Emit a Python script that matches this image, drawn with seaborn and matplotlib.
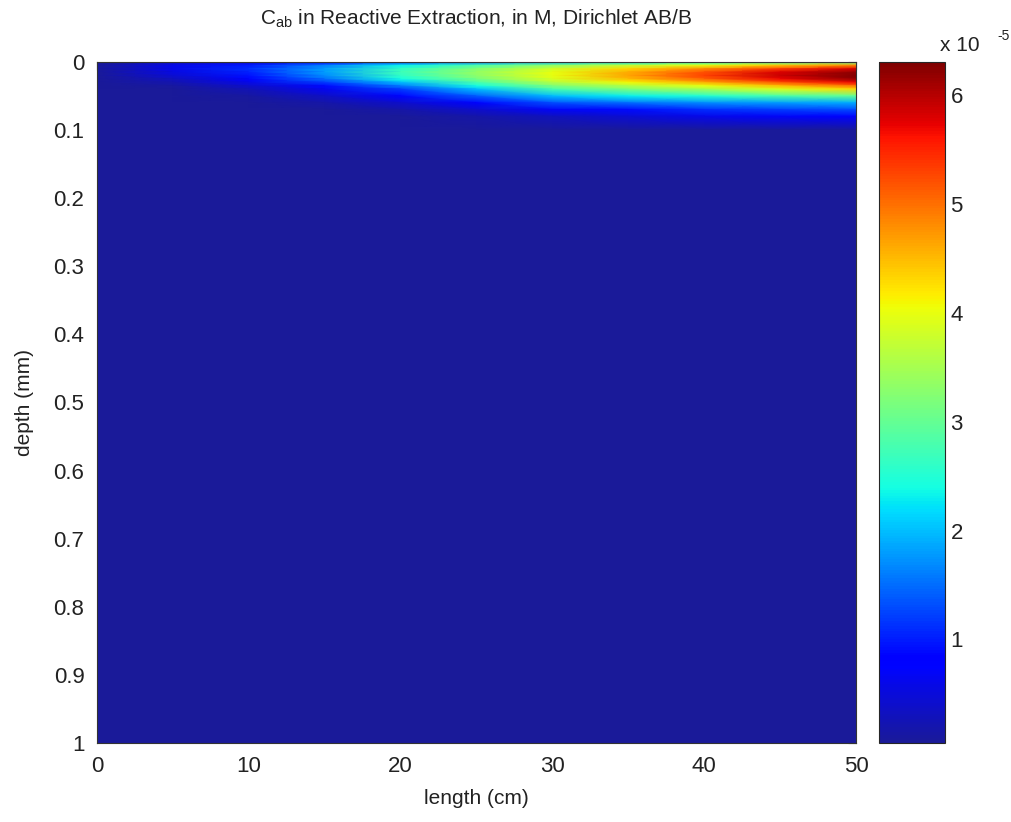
import numpy as np
import matplotlib
matplotlib.use("Agg")
import matplotlib.pyplot as plt
from matplotlib.colors import LinearSegmentedColormap
import seaborn as sns

# ---- data (concentration in units of 1e-5 M) ----
length_cm = [0, 5, 10, 15, 20, 25, 30, 35, 40, 45, 50]
depth_mm = [0, 0.005, 0.01, 0.015, 0.02, 0.025, 0.03, 0.035, 0.04,
            0.05, 0.06, 0.07, 0.08, 0.1, 1.0]

c_x00 = [0.05] * 15
c_x05 = [0.3, 0.6, 0.6, 0.55, 0.45, 0.3, 0.2, 0.1, 0.06, 0.05, 0.05, 0.05, 0.05, 0.05, 0.05]
c_x10 = [0.5, 1.0, 1.1, 1.05, 0.95, 0.8, 0.6, 0.4, 0.25, 0.1, 0.05, 0.05, 0.05, 0.05, 0.05]
c_x15 = [0.8, 1.6, 1.8, 1.8, 1.7, 1.5, 1.2, 0.9, 0.65, 0.35, 0.15, 0.06, 0.05, 0.05, 0.05]
c_x20 = [1.2, 2.3, 2.6, 2.7, 2.6, 2.4, 2.0, 1.6, 1.2, 0.8, 0.4, 0.15, 0.06, 0.05, 0.05]
c_x25 = [1.6, 2.8, 3.2, 3.35, 3.3, 3.15, 2.8, 2.4, 2.0, 1.4, 0.8, 0.4, 0.15, 0.05, 0.05]
c_x30 = [2.0, 3.3, 3.8, 4.0, 4.0, 3.9, 3.6, 3.2, 2.8, 2.0, 1.3, 0.7, 0.3, 0.05, 0.05]
c_x35 = [2.2, 3.7, 4.3, 4.6, 4.65, 4.5, 4.1, 3.6, 3.2, 2.3, 1.5, 0.9, 0.45, 0.05, 0.05]
c_x40 = [2.5, 4.0, 4.8, 5.2, 5.3, 5.1, 4.6, 4.0, 3.5, 2.5, 1.7, 1.1, 0.6, 0.05, 0.05]
c_x45 = [2.8, 4.4, 5.3, 5.8, 5.9, 5.7, 5.2, 4.5, 3.9, 2.8, 1.8, 1.2, 0.7, 0.05, 0.05]
c_x50 = [3.0, 4.8, 5.8, 6.2, 6.3, 6.2, 5.7, 5.0, 4.3, 3.0, 1.9, 1.3, 0.8, 0.05, 0.05]

x_ticks = [0, 10, 20, 30, 40, 50]
y_ticks = [0, 0.1, 0.2, 0.3, 0.4, 0.5, 0.6, 0.7, 0.8, 0.9, 1]
y_ticklabels = ['0', '0.1', '0.2', '0.3', '0.4', '0.5', '0.6', '0.7', '0.8', '0.9', '1']
cbar_ticks = [1, 2, 3, 4, 5, 6]

# ---- build the field ----
cols = [c_x00, c_x05, c_x10, c_x15, c_x20, c_x25, c_x30, c_x35, c_x40, c_x45, c_x50]
Z = np.array(cols).T  # rows = depth, cols = length
X, Y = np.meshgrid(length_cm, depth_mm)

sns.set_style("white")
plt.rcParams['font.family'] = ['Liberation Sans', 'DejaVu Sans']
plt.rcParams['font.size'] = 13
txt = '#222222'

# jet, with the dark end lifted a bit to match the washed-out jpeg look
jet_like = LinearSegmentedColormap('jet_like', {
    'red':   [(0, 0.1, 0.1), (0.11, 0, 0), (0.35, 0, 0), (0.66, 1, 1), (0.89, 1, 1), (1, 0.5, 0.5)],
    'green': [(0, 0.1, 0.1), (0.125, 0, 0), (0.375, 1, 1), (0.64, 1, 1), (0.91, 0, 0), (1, 0, 0)],
    'blue':  [(0, 0.6, 0.6), (0.11, 1, 1), (0.34, 1, 1), (0.65, 0, 0), (1, 0, 0)],
})

fig = plt.figure(figsize=(10.12, 8.22), dpi=100)
ax = fig.add_axes([0.0958, 0.0961, 0.75, 0.8285])
cax = fig.add_axes([0.8686, 0.0961, 0.0652, 0.8285])

mesh = ax.pcolormesh(X, Y, Z, cmap=jet_like, shading='gouraud', vmin=0.05, vmax=6.3)
ax.set_xlim(0, 50)
ax.set_ylim(1, 0)
ax.set_xticks(x_ticks)
ax.set_yticks(y_ticks)
ax.set_yticklabels(y_ticklabels)
ax.tick_params(direction='in', length=6, width=0.8, top=True, right=True,
               labelsize=16, pad=9, labelcolor=txt)
ax.set_xlabel('length (cm)', fontsize=15, labelpad=9, color=txt)
ax.set_ylabel('depth (mm)', fontsize=15, labelpad=14, color=txt)
ax.set_title(r'$\mathregular{C_{ab}}$ in Reactive Extraction, in M, Dirichlet AB/B',
             fontsize=15, pad=27, color=txt)
for s in ax.spines.values():
    s.set_linewidth(0.8)
    s.set_color('#333333')

cb = fig.colorbar(mesh, cax=cax)
cb.set_ticks(cbar_ticks)
cax.tick_params(direction='in', length=6, width=0.8, left=True, right=True,
                labelsize=16, pad=4, labelcolor=txt)
cb.outline.set_linewidth(0.8)
cax.text(0.93, 1.01, 'x 10', transform=cax.transAxes,
         fontsize=15, ha='left', va='bottom', color=txt)
cax.text(1.80, 1.028, '-5', transform=cax.transAxes,
         fontsize=10, ha='left', va='bottom', color=txt)

fig.savefig('out.png', dpi=100)
